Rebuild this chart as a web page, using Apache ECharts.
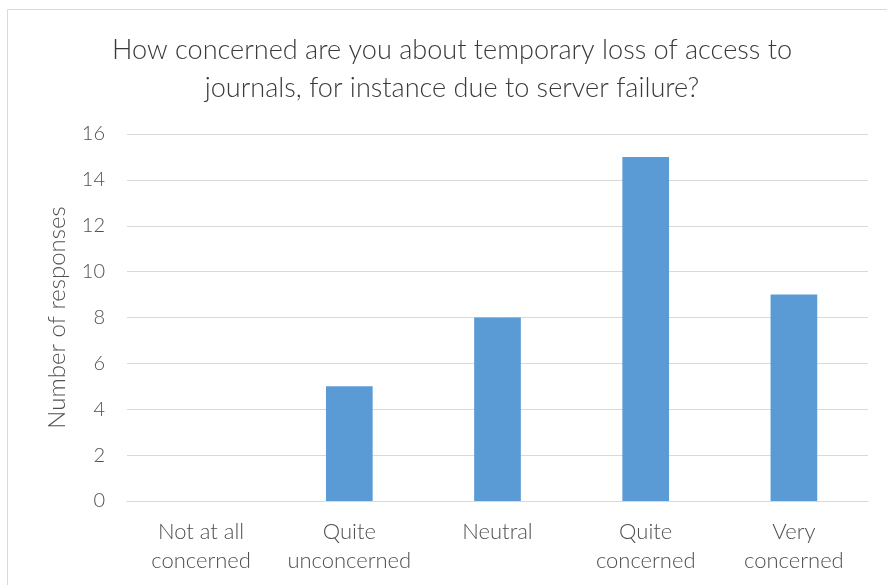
<!DOCTYPE html>
<html>
<head>
<meta charset="utf-8">
<script src="https://cdn.jsdelivr.net/npm/echarts@6/dist/echarts.min.js"></script>
<style>
  html, body { margin: 0; padding: 0; background: #ffffff; }
  #chart { width: 887px; height: 585px; }
</style>
</head>
<body>
<div id="chart"></div>
<script>
// Survey responses per level of concern
const categories = ['Not at all\nconcerned', 'Quite\nunconcerned', 'Neutral', 'Quite\nconcerned', 'Very\nconcerned'];
const responses = [0, 5, 8, 15, 9];
const yTicks = { min: 0, max: 16, interval: 2 };
const titleText = 'How concerned are you about temporary loss of access to\njournals, for instance due to server failure?';
const yAxisTitle = 'Number of responses';

const FONT = 'Lato, "Open Sans", sans-serif';

const chart = echarts.init(document.getElementById('chart'), null, { renderer: 'canvas' });
chart.setOption({
  backgroundColor: '#ffffff',
  animation: false,
  graphic: [{
    type: 'rect',
    shape: { x: 7.5, y: 9.5, width: 900, height: 600 },
    style: { fill: 'none', stroke: '#d9d9d9', lineWidth: 1 },
    silent: true
  }],
  title: {
    text: titleText,
    left: 447,
    textAlign: 'center',
    top: 26,
    textStyle: {
      fontFamily: FONT,
      fontSize: 27.1,
      fontWeight: 300,
      color: '#3a3a3a',
      lineHeight: 38
    }
  },
  grid: { left: 127, right: 19, top: 134, bottom: 84 },
  xAxis: {
    type: 'category',
    data: categories,
    axisLine: { show: true, lineStyle: { color: '#d9d9d9', width: 1 } },
    axisTick: { show: false },
    axisLabel: {
      fontFamily: FONT,
      fontSize: 22,
      fontWeight: 300,
      color: '#505050',
      lineHeight: 29,
      margin: 16,
      interval: 0
    }
  },
  yAxis: {
    type: 'value',
    min: yTicks.min,
    max: yTicks.max,
    interval: yTicks.interval,
    name: yAxisTitle,
    nameLocation: 'middle',
    nameGap: 58,
    nameTextStyle: { fontFamily: FONT, fontSize: 24, fontWeight: 300, color: '#505050' },
    axisLine: { show: false },
    axisTick: { show: false },
    splitLine: { lineStyle: { color: '#d9d9d9', width: 1 } },
    axisLabel: {
      fontFamily: FONT,
      fontSize: 20,
      fontWeight: 300,
      color: '#505050',
      margin: 22
    }
  },
  series: [{
    type: 'bar',
    data: responses,
    barWidth: '31.5%',
    itemStyle: { color: '#5b9bd5' }
  }]
});
</script>
</body>
</html>
